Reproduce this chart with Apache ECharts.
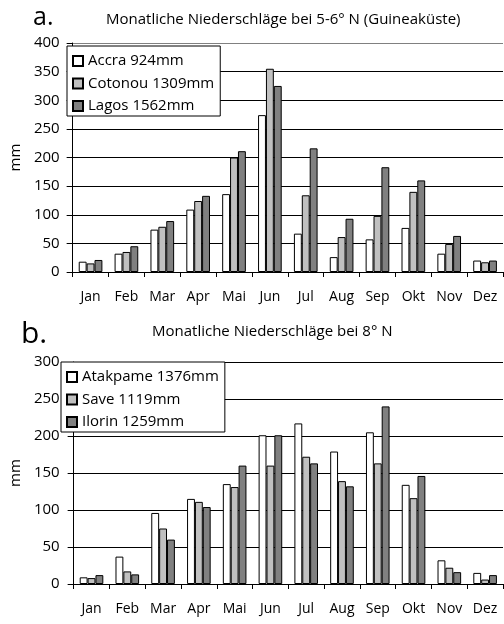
<!DOCTYPE html>
<html><head><meta charset="utf-8">
<script src="https://cdn.jsdelivr.net/npm/echarts@6/dist/echarts.min.js"></script>
<style>html,body{margin:0;padding:0;background:#fff}#c{width:504px;height:624px}</style>
</head><body><div id="c"></div>
<script>
const months = ['Jan','Feb','Mar','Apr','Mai','Jun','Jul','Aug','Sep','Okt','Nov','Dez'];
const namesA = ['Accra 924mm','Cotonou 1309mm','Lagos 1562mm'];
const accra   = [18, 32, 74, 109, 136, 274, 67, 26, 57, 77, 32, 20];
const cotonou = [15, 35, 79, 124, 200, 355, 134, 61, 98, 140, 49, 17];
const lagos   = [21, 45, 89, 133, 211, 325, 216, 93, 183, 160, 63, 20];
const namesB = ['Atakpame 1376mm','Save 1119mm','Ilorin 1259mm'];
const atakpame = [9, 37, 96, 115, 135, 201, 217, 179, 205, 134, 32, 15];
const save     = [8, 17, 75, 111, 131, 160, 172, 139, 163, 116, 22, 6];
const ilorin   = [12, 13, 60, 104, 160, 201, 163, 132, 240, 146, 16, 12];
const ticksA = [0,50,100,150,200,250,300,350,400];
const ticksB = [0,50,100,150,200,250,300];

const FONT = '"Open Sans", sans-serif';
const colors = ['#ffffff','#c0c0c0','#808080'];
const chart = echarts.init(document.getElementById('c'));

function xAxis(gi){
  return {type:'category', gridIndex:gi, data:months,
    axisLine:{lineStyle:{color:'#000',width:1}},
    axisTick:{show:true, length:5, lineStyle:{color:'#000'}},
    axisLabel:{color:'#000', fontFamily:FONT, fontSize:14, margin:18}};
}
function yAxis(gi, ticks, nameGap, margin, splitColors){
  return {type:'value', gridIndex:gi, min:ticks[0], max:ticks[ticks.length-1], interval:ticks[1]-ticks[0],
    name:'mm', nameLocation:'middle', nameGap:nameGap, nameRotate:90,
    nameTextStyle:{color:'#000', fontFamily:FONT, fontSize:15},
    axisLine:{show:true, lineStyle:{color:'#000'}},
    axisTick:{show:true, length:6, lineStyle:{color:'#000'}},
    axisLabel:{color:'#000', fontFamily:FONT, fontSize:15, margin:margin},
    splitLine:{lineStyle:{color:splitColors, width:1}}};
}
function bar(name, data, ci, gi){
  return {type:'bar', name:name, data:data, xAxisIndex:gi, yAxisIndex:gi,
    barGap:'0%', barCategoryGap:'34%',
    itemStyle:{color:colors[ci], borderColor:'#000', borderWidth:1}};
}
function legend(names, left, top){
  return {data:names, orient:'vertical', left:left, top:top, itemGap:2.5,
    itemWidth:10, itemHeight:10, icon:'rect', padding:[5,6,0,5],
    backgroundColor:'#fff', borderColor:'#000', borderWidth:1,
    textStyle:{color:'#000', fontFamily:FONT, fontSize:15, lineHeight:20}};
}

chart.setOption({
  animation:false,
  title:[
    {text:'a.', left:33, top:5, padding:0, textStyle:{fontFamily:FONT, fontSize:25, fontWeight:'normal', color:'#000'}},
    {text:'Monatliche Niederschläge bei 5-6° N (Guineaküste)', left:106, top:12, padding:0, textStyle:{fontFamily:FONT, fontSize:15, fontWeight:'normal', color:'#000'}},
    {text:'b.', left:21, top:319, padding:0, textStyle:{fontFamily:FONT, fontSize:30, fontWeight:'normal', color:'#000'}},
    {text:'Monatliche Niederschläge bei 8° N', left:152, top:324, padding:0, textStyle:{fontFamily:FONT, fontSize:15, fontWeight:'normal', color:'#000'}}
  ],
  legend:[legend(namesA, 67, 46), legend(namesB, 61, 362)],
  grid:[
    {left:65, top:43, width:438, height:229},
    {left:61, top:362, width:442, height:222}
  ],
  xAxis:[xAxis(0), xAxis(1)],
  yAxis:[
    yAxis(0, ticksA, 34, 13, ['#000','#000','#000','#000','#000','#000','#000','#000','#808080']),
    yAxis(1, ticksB, 37, 14, ['#000'])
  ],
  series:[
    bar(namesA[0], accra, 0, 0), bar(namesA[1], cotonou, 1, 0), bar(namesA[2], lagos, 2, 0),
    bar(namesB[0], atakpame, 0, 1), bar(namesB[1], save, 1, 1), bar(namesB[2], ilorin, 2, 1)
  ]
});
</script></body></html>
